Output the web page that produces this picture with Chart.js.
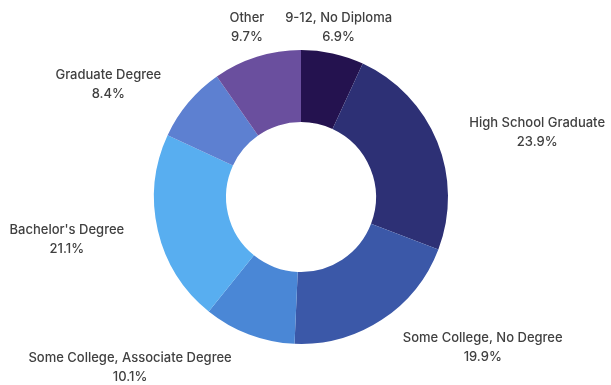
<!DOCTYPE html>
<html>
<head>
<meta charset="utf-8">
<script src="https://cdn.jsdelivr.net/npm/chart.js@4"></script>
<style>
  html, body { margin: 0; padding: 0; background: #ffffff; }
  #wrap { width: 611px; height: 385px; }
</style>
</head>
<body>
<div id="wrap"><canvas id="c" width="611" height="385"></canvas></div>
<script>
// ---- data ----
const categories = [
  "9-12, No Diploma",
  "High School Graduate",
  "Some College, No Degree",
  "Some College, Associate Degree",
  "Bachelor's Degree",
  "Graduate Degree",
  "Other"
];
const shares = [6.9, 23.9, 19.9, 10.1, 21.1, 8.4, 9.7];
const sliceColors = ["#24124f", "#2d3075", "#3b58a8", "#4a87d6", "#58aef0", "#5d80d1", "#6a4f9e"];

// ---- label placement (layout, relative to each arc's outer-edge midpoint) ----
const labelNudge = [
  [6, -26], [100, -10], [101, 27], [-119, 33], [-91, 9], [-80, -18], [-10, -30]
];

const outsideLabels = {
  id: 'outsideLabels',
  afterDatasetsDraw(chart) {
    const ctx = chart.ctx;
    const meta = chart.getDatasetMeta(0);
    ctx.save();
    ctx.font = '500 13px Inter, "Open Sans", sans-serif';
    ctx.fillStyle = '#404040';
    ctx.textAlign = 'center';
    ctx.textBaseline = 'middle';
    meta.data.forEach((arc, i) => {
      const p = arc.getProps(['x', 'y', 'startAngle', 'endAngle', 'outerRadius'], true);
      const mid = (p.startAngle + p.endAngle) / 2;
      const ex = p.x + Math.cos(mid) * p.outerRadius;
      const ey = p.y + Math.sin(mid) * p.outerRadius;
      const cx = ex + labelNudge[i][0];
      const cy = ey + labelNudge[i][1];
      ctx.fillText(categories[i], cx, cy - 9);
      ctx.fillText(shares[i].toFixed(1) + '%', cx, cy + 10);
    });
    ctx.restore();
  }
};

new Chart(document.getElementById('c'), {
  type: 'doughnut',
  data: {
    labels: categories,
    datasets: [{
      data: shares,
      backgroundColor: sliceColors,
      borderWidth: 0,
      hoverOffset: 0
    }]
  },
  options: {
    responsive: false,
    animation: false,
    events: [],
    cutout: '51%',
    layout: { padding: { top: 50, bottom: 41, left: 0, right: 9 } },
    plugins: {
      legend: { display: false },
      tooltip: { enabled: false }
    }
  },
  plugins: [outsideLabels]
});
</script>
</body>
</html>
